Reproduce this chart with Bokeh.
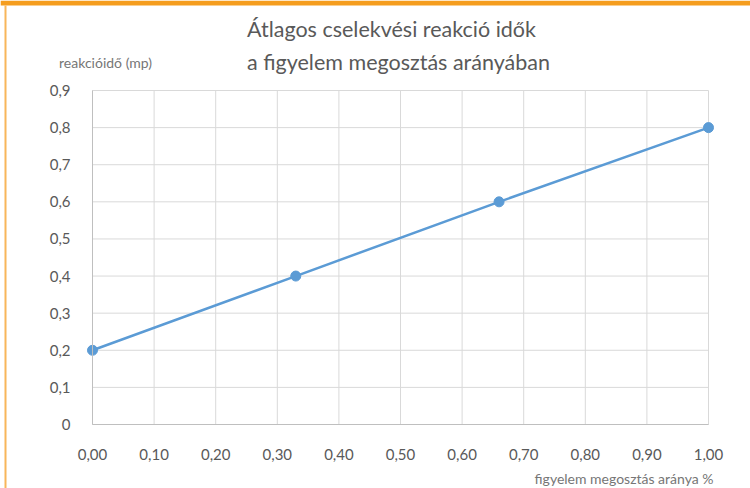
from bokeh.plotting import figure
from bokeh.models import Range1d, FixedTicker, Label, BoxAnnotation
from bokeh.embed import file_html
from bokeh.resources import INLINE

share = [0.0, 0.33, 0.66, 1.0]
reaction = [0.2, 0.4, 0.6, 0.8]
x_ticks = [0.0, 0.1, 0.2, 0.3, 0.4, 0.5, 0.6, 0.7, 0.8, 0.9, 1.0]
x_labels = ["0,00", "0,10", "0,20", "0,30", "0,40", "0,50", "0,60", "0,70", "0,80", "0,90", "1,00"]
y_ticks = [0.0, 0.1, 0.2, 0.3, 0.4, 0.5, 0.6, 0.7, 0.8, 0.9]
y_labels = ["0", "0,1", "0,2", "0,3", "0,4", "0,5", "0,6", "0,7", "0,8", "0,9"]
title_lines = ["Átlagos cselekvési reakció idők", "a figyelem megosztás arányában"]
x_title = "figyelem megosztás aránya %"
y_title = "reakcióidő (mp)"

W, H = 750, 488
# plot area in canvas pixels
PL, PR, PT, PB = 92, 708, 90, 424
xmin, xmax = x_ticks[0], x_ticks[-1]
ymin, ymax = y_ticks[0], y_ticks[-1]
sx = (xmax - xmin) / (PR - PL)
sy = (ymax - ymin) / (PB - PT)

FONT = "Lato"
GRAY = "#595959"
LIGHT = "#767676"
BLUE = "#5B9BD5"

p = figure(width=W, height=H, output_backend="svg", toolbar_location=None,
           x_range=Range1d(xmin - PL * sx, xmax + (W - PR) * sx),
           y_range=Range1d(ymin - (H - PB) * sy, ymax + PT * sy),
           min_border=0)
p.title.visible = False
p.outline_line_color = None
p.background_fill_color = "white"
p.border_fill_color = "white"
p.grid.visible = False

# grid lines limited to the plot area
p.segment(x0=x_ticks, y0=[ymin] * len(x_ticks), x1=x_ticks, y1=[ymax] * len(x_ticks),
          line_color="#D9D9D9", line_width=1)
p.segment(x0=[xmin] * len(y_ticks), y0=y_ticks, x1=[xmax] * len(y_ticks), y1=y_ticks,
          line_color="#D9D9D9", line_width=1)

for ax, ticks, labels in ((p.xaxis[0], x_ticks, x_labels), (p.yaxis[0], y_ticks, y_labels)):
    ax.ticker = FixedTicker(ticks=ticks)
    ax.major_label_overrides = dict(zip(ticks, labels))
    ax.axis_line_color = "#BFBFBF"
    ax.axis_line_width = 1
    ax.major_tick_line_color = None
    ax.minor_tick_line_color = None
    ax.major_label_text_font = FONT
    ax.major_label_text_font_size = "15px"
    ax.major_label_text_color = GRAY
    ax.bounds = (ticks[0], ticks[-1])
p.xaxis.fixed_location = ymin
p.yaxis.fixed_location = xmin
p.xaxis.major_label_standoff = 18
p.yaxis.major_label_standoff = 16

p.line(share, reaction, line_color=BLUE, line_width=2.5)
p.scatter(share, reaction, size=10, fill_color=BLUE, line_color=BLUE)

def lab(x, y, text, size, align, color):
    p.add_layout(Label(x=x, y=H - y, x_units="screen", y_units="screen", text=text, text_align=align,
                       text_baseline="middle", text_font=FONT, text_font_size=size, text_color=color))

lab(391, 28, title_lines[0], "21.5px", "center", GRAY)
lab(398, 61, title_lines[1], "21.5px", "center", GRAY)
lab(105, 62, y_title, "14px", "center", LIGHT)
lab(713, 478, x_title, "14px", "right", LIGHT)

p.add_layout(BoxAnnotation(left=0, right=W, top=H, bottom=H - 5, left_units="screen", right_units="screen",
                           top_units="screen", bottom_units="screen", fill_color="#F59D1E", fill_alpha=1,
                           line_color=None))
p.add_layout(BoxAnnotation(left=4, right=6, top=H - 5, bottom=0, left_units="screen", right_units="screen",
                           top_units="screen", bottom_units="screen", fill_color="#F8B65A", fill_alpha=1,
                           line_color=None))

open("out.html", "w").write(file_html(p, INLINE))
